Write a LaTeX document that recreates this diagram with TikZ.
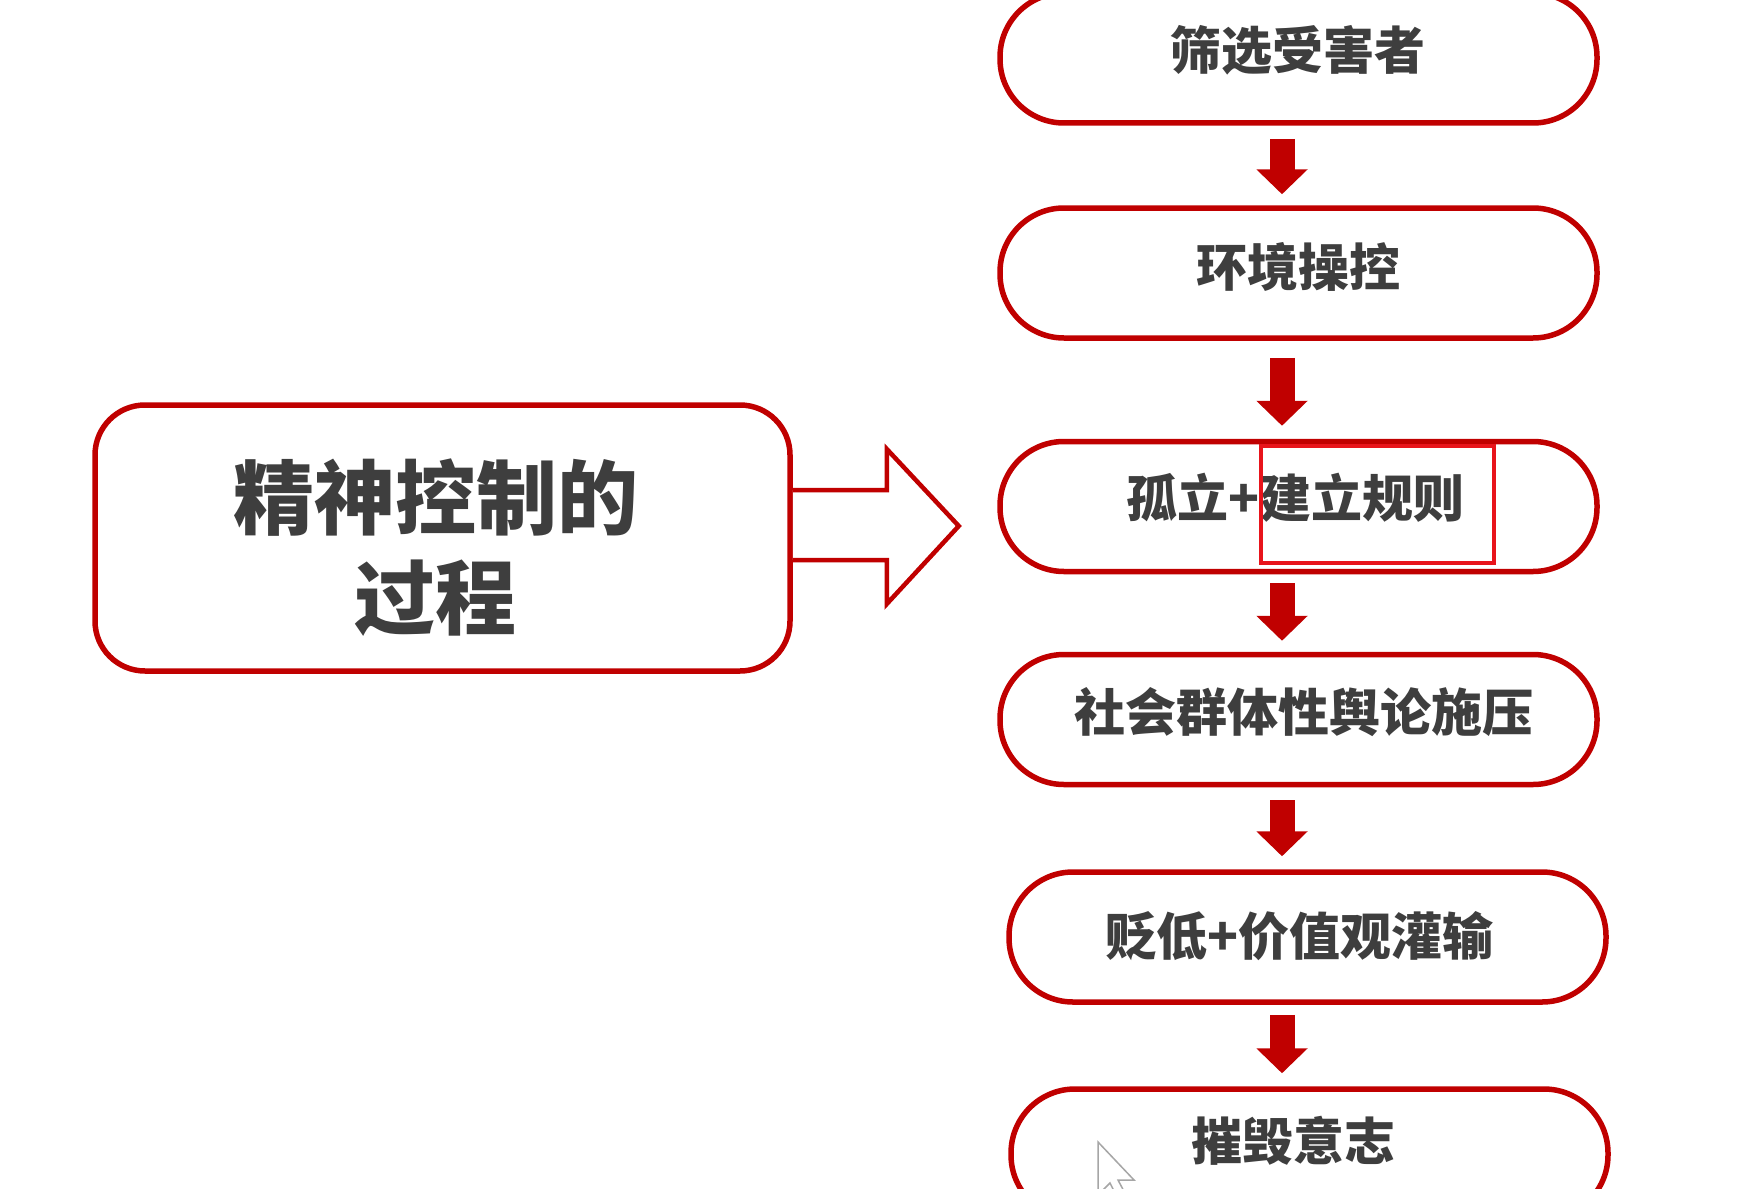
\documentclass[tikz,border=0pt]{standalone}
\usepackage{fontspec}
\newfontfamily\cjk{Noto Sans CJK SC}
\usetikzlibrary{calc,arrows.meta}
\definecolor{boxred}{RGB}{192,0,0}
\definecolor{hlred}{RGB}{232,20,27}
\definecolor{txtgray}{RGB}{62,62,62}
\tikzset{
  stage/.style={draw=boxred, line width=5.5pt, fill=white, rounded corners=64pt,
    minimum width=597pt, minimum height=130pt, inner sep=0pt},
  lbl/.style={font=\cjk\bfseries\fontsize{51}{60}\selectfont, text=txtgray, inner sep=0pt},
  downarrow/.style={boxred, line width=25pt, -{Triangle[width=50pt,length=25pt]}},
  bigbox/.style={draw=boxred, line width=5.5pt, fill=white, rounded corners=50pt,
    minimum width=695pt, minimum height=266pt, inner sep=0pt},
  biglbl/.style={font=\cjk\bfseries\fontsize{81}{100}\selectfont, text=txtgray, align=center, inner sep=0pt},
  hollowarrow/.style={draw=boxred, line width=4.5pt, fill=white, line join=miter},
  hlbox/.style={draw=hlred, line width=4pt, minimum width=233pt, minimum height=117pt, inner sep=0pt},
  cursor/.style={draw=gray!70, line width=1.5pt, fill=white}
}
\begin{document}
\begin{tikzpicture}[x=1pt,y=-1pt]
\useasboundingbox[fill=white] (0,0) rectangle (1739,1188);
\coordinate (ax) at (1282,0);
% stages
\node[stage] (b1) at (1298.5,58) {};
\node[stage] (b2) at (1298.5,273) {};
\node[stage] (b3) at (1298.5,506.5) {};
\node[stage] (b4) at (1298.5,719.5) {};
\node[stage] (b5) at (1307.5,937) {};
\node[stage] (b6) at (1309.5,1154) {};
\node[lbl] (t1) at ($(b1)+(-1,-8)$) {筛选受害者};
\node[lbl] (t2) at ($(b2)+(0,-6)$) {环境操控};
\node[lbl] (t3) at ($(b3)+(-3,-9)$) {孤立+建立规则};
\node[lbl] (t4) at ($(b4)+(5,-7)$) {社会群体性舆论施压};
\node[lbl] (t5) at ($(b5)+(-8,-1)$) {贬低+价值观灌输};
\node[lbl] (t6) at ($(b6)+(-16,-13)$) {摧毁意志};
\node[hlbox] (hl) at (1377.5,504.5) {};
% down arrows
\draw[downarrow] ($(b1.south -| ax)+(0,13)$) -- ($(b2.north -| ax)+(0,-11)$);
\draw[downarrow] ($(b2.south -| ax)+(0,17)$) -- ($(b3.north -| ax)+(0,-13)$);
\draw[downarrow] ($(b3.south -| ax)+(0,9)$) -- ($(b4.north -| ax)+(0,-11)$);
\draw[downarrow] ($(b4.south -| ax)+(0,13)$) -- ($(b5.north -| ax)+(0,-13)$);
\draw[downarrow] ($(b5.south -| ax)+(0,10)$) -- ($(b6.north -| ax)+(0,-13)$);
% left box
\node[bigbox] (L) at (442.5,538) {};
\node[biglbl] (Lt) at ($(L)+(-7,10)$) {精神控制的\\过程};
% hollow arrow
\coordinate (ha) at ($(L.east)+(0,-12)$);
\draw[hollowarrow] ($(ha)+(0,-36)$) -- ($(ha)+(94,-36)$) -- ($(ha)+(94,-77)$)
  -- ($(ha)+(166,0)$) -- ($(ha)+(94,78)$) -- ($(ha)+(94,34)$) -- ($(ha)+(0,34)$);
% mouse cursor
\draw[cursor] (1098,1142) -- (1098,1195) -- (1110,1183) -- (1119,1201) -- (1127,1197)
  -- (1118,1180) -- (1134,1180) -- cycle;
\end{tikzpicture}
\end{document}
